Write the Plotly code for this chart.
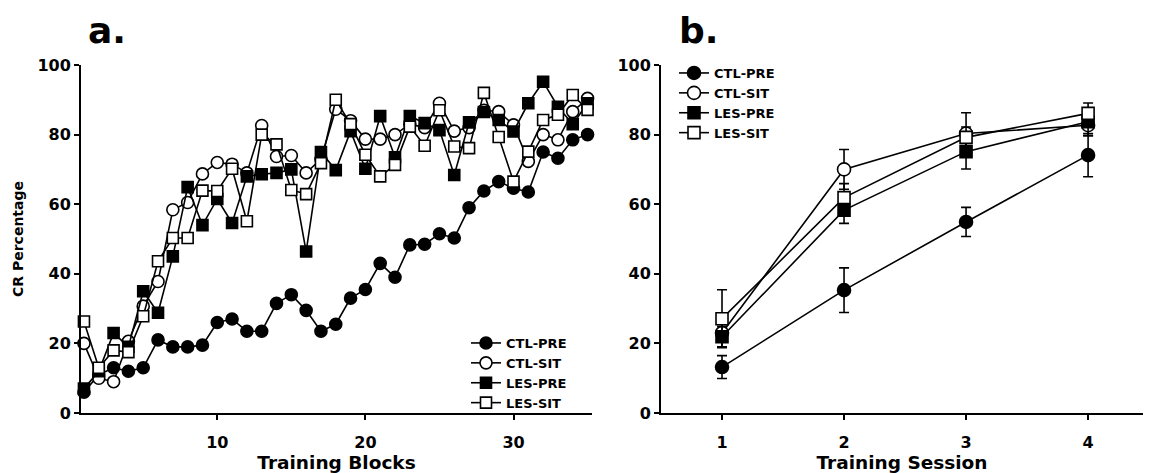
import plotly.graph_objects as go
from plotly.subplots import make_subplots

# ---------------- data ----------------
blocks = list(range(1, 36))
ctl_pre_a = [6, 11, 13, 12, 13, 21, 19, 19, 19.5, 26, 27, 23.5, 23.5, 31.5, 34, 29.5, 23.5, 25.5,
             33, 35.5, 43, 39, 48.3, 48.5, 51.5, 50.3, 59, 63.8, 66.5, 64.6, 63.5, 75, 73.2, 78.5, 80]
ctl_sit_a = [20, 10, 9, 20.6, 30.7, 37.8, 58.4, 60.5, 68.7, 72, 71.5, 69, 82.6, 73.7, 74, 69, 73,
             87.3, 84, 78.7, 78.7, 80, 83, 82, 89, 81, 82, 87, 86.6, 82.8, 72.3, 80, 78.5, 86.6, 90.4]
les_pre_a = [7, 12, 23, 19, 35, 28.8, 45, 64.9, 54, 61.5, 54.6, 68, 68.6, 69, 70, 46.4, 75, 69.8,
             81, 70.2, 85.3, 73.5, 85.3, 83.3, 81.3, 68.4, 83.5, 86.5, 84.2, 80.9, 89, 95.2, 88, 83, 89]
les_sit_a = [26.3, 13, 18, 17.5, 27.8, 43.6, 50.3, 50.3, 63.9, 63.8, 70.2, 55.1, 80, 77.2, 64.1, 62.9,
             71.8, 90, 83, 74.2, 68, 71.3, 82.3, 76.8, 87, 76.6, 76.1, 92, 79.3, 66.5, 75.1, 84.2, 85.7,
             91.4, 87.1]

sessions = [1, 2, 3, 4]
ctl_pre_b = [13.2, 35.3, 54.9, 74.1]
ctl_pre_err = [3.3, 6.4, 4.2, 6.2]
ctl_sit_b = [23, 70, 80.3, 82.7]
ctl_sit_err = [4, 5.7, 6, 3]
les_pre_b = [21.9, 58.3, 75.1, 83.7]
les_pre_err = [3, 3.8, 5, 4]
les_sit_b = [27.1, 61.9, 79.2, 86.1]
les_sit_err = [8.3, 4, 3, 3]

names = ["CTL-PRE", "CTL-SIT", "LES-PRE", "LES-SIT"]
symbols = ["circle", "circle", "square", "square"]
fills = ["black", "white", "black", "white"]

FONT = "DejaVu Sans, Liberation Sans, Arial, sans-serif"

# page offset (default body margin of the html page)
OX, OY = 8, 8
FW, FH = 1161 - OX, 473 - OY


def fx(xp):
    return (xp - OX) / FW


def fy(yp):
    return 1 - (yp - OY) / FH


fig = make_subplots(rows=1, cols=2)

series_a = [ctl_pre_a, ctl_sit_a, les_pre_a, les_sit_a]
for name, ys, sym, fc in zip(names, series_a, symbols, fills):
    fig.add_trace(go.Scatter(
        x=blocks, y=ys, mode="lines+markers", name=name, legend="legend",
        line=dict(color="black", width=1.6),
        marker=dict(symbol=sym, size=12 if sym == "circle" else 11, color=fc,
                    line=dict(color="black", width=1.6)),
        cliponaxis=False,
    ), row=1, col=1)

series_b = [(ctl_pre_b, ctl_pre_err), (ctl_sit_b, ctl_sit_err),
            (les_pre_b, les_pre_err), (les_sit_b, les_sit_err)]
for name, (ys, er), sym, fc in zip(names, series_b, symbols, fills):
    fig.add_trace(go.Scatter(
        x=sessions, y=ys, mode="lines+markers", name=name, legend="legend2",
        line=dict(color="black", width=1.6),
        marker=dict(symbol=sym, size=13 if sym == "circle" else 12, color=fc,
                    line=dict(color="black", width=1.6)),
        error_y=dict(type="data", array=er, color="black", thickness=1.6, width=5),
        cliponaxis=False,
    ), row=1, col=2)

tickfont = dict(family=FONT, size=16, color="black", weight="bold")
axis_common = dict(showline=True, linecolor="black", linewidth=2, ticks="outside",
                   ticklen=5, tickwidth=1.5, tickcolor="black", showgrid=False,
                   zeroline=False, mirror=False, tickfont=tickfont, automargin=False)
title_font_x = dict(family=FONT, size=18.5, color="black", weight="bold")

fig.update_layout(
    width=FW, height=FH,
    margin=dict(l=0, r=0, t=0, b=0, autoexpand=False),
    paper_bgcolor="white", plot_bgcolor="white",
    showlegend=True,
    xaxis=dict(domain=[fx(81), fx(592)], range=[0.8, 35.3], tickvals=[10, 20, 30],
               anchor="y", ticklabelstandoff=9, **axis_common,
               title=dict(text="Training Blocks", standoff=2, font=title_font_x)),
    yaxis=dict(domain=[fy(413), fy(65)], range=[0, 100], tickvals=[0, 20, 40, 60, 80, 100],
               anchor="x", ticklabelstandoff=0, **axis_common,
               title=dict(text="CR Percentage", standoff=10,
                          font=dict(family=FONT, size=14, color="black", weight="bold"))),
    xaxis2=dict(domain=[fx(661), fx(1143)], range=[0.5, 4.45], tickvals=[1, 2, 3, 4],
                anchor="y2", ticklabelstandoff=9, **axis_common,
                title=dict(text="Training Session", standoff=2, font=title_font_x)),
    yaxis2=dict(domain=[fy(413), fy(65)], range=[0, 100], tickvals=[0, 20, 40, 60, 80, 100],
                anchor="x2", ticklabelstandoff=0, **axis_common),
    legend=dict(x=fx(466), y=fy(328), xanchor="left", yanchor="top",
                bgcolor="rgba(0,0,0,0)", tracegroupgap=0, itemwidth=30,
                font=dict(family=FONT, size=13, color="black", weight="bold")),
    legend2=dict(x=fx(674), y=fy(58), xanchor="left", yanchor="top",
                 bgcolor="rgba(0,0,0,0)", tracegroupgap=0, itemwidth=30,
                 font=dict(family=FONT, size=13, color="black", weight="bold")),
    annotations=[
        dict(text="a.", x=fx(86), y=fy(30.5), xref="paper", yref="paper", showarrow=False,
             xanchor="left", yanchor="middle",
             font=dict(family=FONT, size=36, color="black", weight="bold")),
        dict(text="b.", x=fx(677), y=fy(30.5), xref="paper", yref="paper", showarrow=False,
             xanchor="left", yanchor="middle",
             font=dict(family=FONT, size=36, color="black", weight="bold")),
    ],
)

fig.write_html("out.html")
